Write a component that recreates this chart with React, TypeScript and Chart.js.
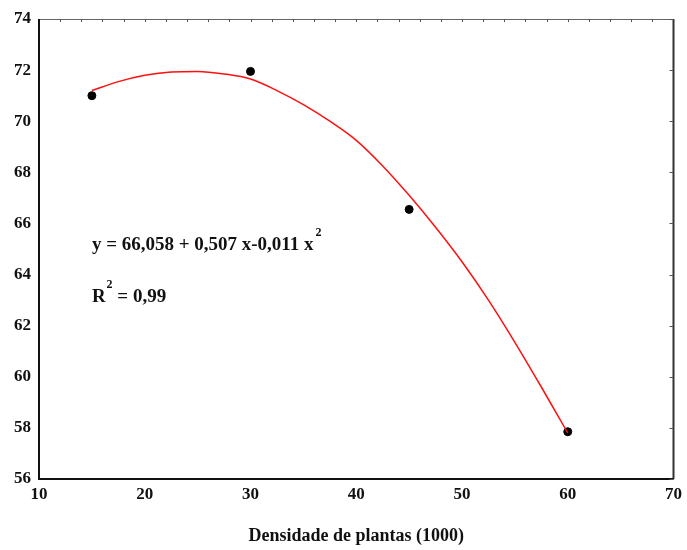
import React, { useEffect, useRef } from "react";
import { Chart, registerables } from "chart.js";

Chart.register(...registerables);

// Observed data
const obsX = [15, 30, 45, 60];
const obsY = [71.0, 71.95, 66.55, 57.85];

// Fitted curve
const curveX = [15, 17.5, 20, 22.5, 25, 27.5, 30, 32.5, 35, 37.5, 40, 42.5, 45, 47.5, 50, 52.5, 55, 57.5, 60];
const curveY = [71.2, 71.55, 71.8, 71.93, 71.95, 71.85, 71.65, 71.2, 70.65, 70.0, 69.25, 68.25, 67.1, 65.85, 64.5, 63.0, 61.35, 59.6, 57.8];

const xTicks = [10, 20, 30, 40, 50, 60, 70];
const yTicks = [56, 58, 60, 62, 64, 66, 68, 70, 72, 74];

const xTitle = "Densidade de plantas (1000)";
const equationText = "y = 66,058 + 0,507 x-0,011 x";
const r2Text = "R";
const r2Value = " = 0,99";

const FONT = "'Liberation Serif', 'Times New Roman', serif";

const framePlugin = {
  id: "frame",
  afterDraw(chart: any) {
    const { ctx, chartArea } = chart;
    const { left, right, top, bottom } = chartArea;
    const yScale = chart.scales.y;
    const xScale = chart.scales.x;
    ctx.save();
    ctx.strokeStyle = "#666";
    ctx.lineWidth = 1;
    ctx.beginPath();
    ctx.moveTo(left, top + 0.5);
    ctx.lineTo(right, top + 0.5);
    ctx.stroke();
    ctx.strokeStyle = "#333";
    ctx.lineWidth = 2;
    ctx.beginPath();
    ctx.moveTo(right, top);
    ctx.lineTo(right, bottom);
    ctx.stroke();
    ctx.strokeStyle = "#111";
    ctx.lineWidth = 2;
    ctx.beginPath();
    ctx.moveTo(left, top);
    ctx.lineTo(left, bottom);
    ctx.lineTo(right, bottom);
    ctx.stroke();
    ctx.lineWidth = 1;
    ctx.strokeStyle = "#555";
    yTicks.forEach((v) => {
      const py = Math.round(yScale.getPixelForValue(v)) + 0.5;
      ctx.beginPath();
      ctx.moveTo(right - 4, py);
      ctx.lineTo(right, py);
      ctx.stroke();
    });
    for (let v = 12; v < 70; v += 2) {
      const px = Math.round(xScale.getPixelForValue(v)) + 0.5;
      ctx.beginPath();
      ctx.moveTo(px, top);
      ctx.lineTo(px, top + 3);
      ctx.stroke();
    }
    ctx.fillStyle = "#111";
    ctx.textBaseline = "middle";
    ctx.textAlign = "left";
    const ex = xScale.getPixelForValue(15);
    const ey = yScale.getPixelForValue(65.15);
    ctx.font = `bold 19px ${FONT}`;
    ctx.fillText(equationText, ex, ey);
    const w = ctx.measureText(equationText).width;
    ctx.font = `bold 12px ${FONT}`;
    ctx.fillText("2", ex + w + 2, ey - 12);

    const ry = yScale.getPixelForValue(63.12);
    ctx.font = `bold 19px ${FONT}`;
    ctx.fillText(r2Text, ex, ry);
    const rw = ctx.measureText(r2Text).width;
    ctx.font = `bold 12px ${FONT}`;
    ctx.fillText("2", ex + rw + 1, ry - 12);
    ctx.font = `bold 19px ${FONT}`;
    ctx.fillText(r2Value, ex + rw + 7, ry);
    ctx.restore();
  },
};

export default function App() {
  const ref = useRef<HTMLCanvasElement | null>(null);
  useEffect(() => {
    document.body.style.margin = "0";
    const canvas = ref.current!;
    const chart = new Chart(canvas, {
      type: "scatter",
      data: {
        datasets: [
          {
            label: "Ajuste",
            data: curveX.map((x, i) => ({ x, y: curveY[i] })),
            showLine: true,
            borderColor: "#ff1010",
            borderWidth: 1.5,
            pointRadius: 0,
            cubicInterpolationMode: "monotone",
          },
          {
            label: "Observado",
            data: obsX.map((x, i) => ({ x, y: obsY[i] })),
            showLine: false,
            pointRadius: 4,
            pointStyle: "circle",
            backgroundColor: "#000",
            borderColor: "#000",
          },
        ],
      },
      options: {
        animation: false,
        responsive: false,
        layout: { padding: { top: 19, right: 10, left: 0, bottom: 0 } },
        plugins: {
          legend: { display: false },
          tooltip: { enabled: false },
        },
        scales: {
          x: {
            type: "linear",
            min: 10,
            max: 70,
            afterBuildTicks: (s: any) => {
              s.ticks = xTicks.map((v) => ({ value: v }));
            },
            afterFit: (s: any) => {
              s.height = 71;
            },
            grid: { display: false, drawTicks: false },
            border: { display: false },
            ticks: {
              padding: 5,
              color: "#111",
              font: { family: FONT, size: 17, weight: "bold" },
              maxRotation: 0,
            },
            title: {
              display: true,
              text: xTitle,
              color: "#111",
              font: { family: FONT, size: 18, weight: "bold" },
              padding: { top: 0, bottom: 3 },
            },
          },
          y: {
            type: "linear",
            min: 56,
            max: 74,
            afterBuildTicks: (s: any) => {
              s.ticks = yTicks.map((v) => ({ value: v }));
            },
            afterFit: (s: any) => {
              s.width = 39;
            },
            grid: { display: false, drawTicks: false },
            border: { display: false },
            ticks: {
              padding: 8,
              color: "#111",
              font: { family: FONT, size: 17, weight: "bold" },
            },
          },
        },
      },
      plugins: [framePlugin],
    } as any);
    return () => chart.destroy();
  }, []);
  return (
    <div style={{ position: "absolute", left: 0, top: 0, width: 687, height: 550, background: "#fff" }}>
      <canvas ref={ref} width={687} height={550} style={{ width: 687, height: 550, display: "block" }} />
    </div>
  );
}
